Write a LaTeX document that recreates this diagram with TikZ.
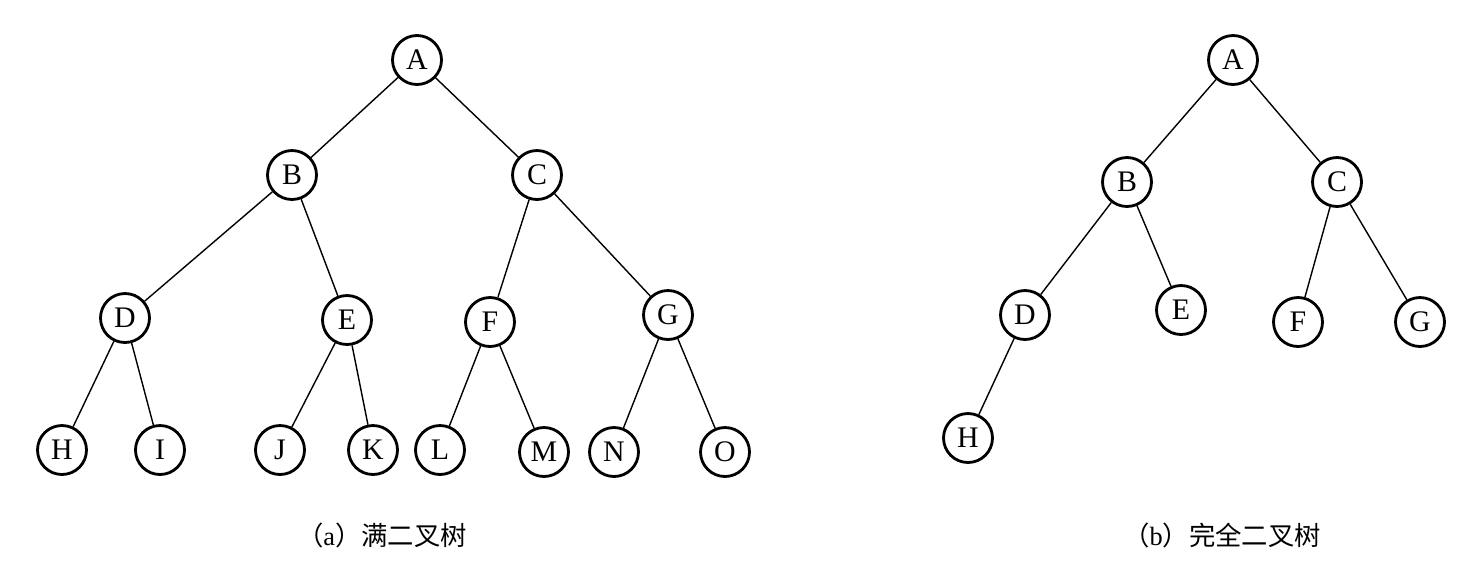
\documentclass[tikz,border=0pt]{standalone}
\usepackage{fontspec}
\setmainfont{Liberation Serif}
\newfontfamily\cjk{Noto Sans CJK SC}
\begin{document}
\begin{tikzpicture}[x=0.02cm,y=-0.02cm,
  tn/.style={circle,draw,line width=1.6pt,minimum size=0.98cm,inner sep=0pt,font=\fontsize{17}{20}\selectfont},
  ed/.style={line width=0.8pt},
  captext/.style={font=\fontsize{15}{18}\selectfont}]
\useasboundingbox (0,0) rectangle (1480,562);
\node[tn] (A) at (417,60) {A};
\node[tn] (B) at (292,175) {B};
\node[tn] (C) at (537,175) {C};
\node[tn] (D) at (125,318) {D};
\node[tn] (E) at (347,320) {E};
\node[tn] (F) at (490,322) {F};
\node[tn] (G) at (668,315) {G};
\node[tn] (H) at (62,450) {H};
\node[tn] (I) at (160,450) {I};
\node[tn] (J) at (280,450) {J};
\node[tn] (K) at (373,450) {K};
\node[tn] (L) at (440,450) {L};
\node[tn] (M) at (544,452) {M};
\node[tn] (N) at (614,452) {N};
\node[tn] (O) at (725,452) {O};
\foreach \a/\b in {A/B,A/C,B/D,B/E,C/F,C/G,D/H,D/I,E/J,E/K,F/L,F/M,G/N,G/O}
  \draw[ed] (\a) -- (\b);
\node[tn] (A2) at (1233,60) {A};
\node[tn] (B2) at (1127,182) {B};
\node[tn] (C2) at (1337,182) {C};
\node[tn] (D2) at (1025,315) {D};
\node[tn] (E2) at (1181,310) {E};
\node[tn] (F2) at (1298,322) {F};
\node[tn] (G2) at (1420,322) {G};
\node[tn] (H2) at (968,438) {H};
\foreach \a/\b in {A2/B2,A2/C2,B2/D2,B2/E2,C2/F2,C2/G2,D2/H2}
  \draw[ed] (\a) -- (\b);
\node[captext] (capa) at (382,535) {{\cjk （}a{\cjk ）满二叉树}};
\node[captext] (capb) at (1222,535) {{\cjk （}b{\cjk ）完全二叉树}};
\end{tikzpicture}
\end{document}
